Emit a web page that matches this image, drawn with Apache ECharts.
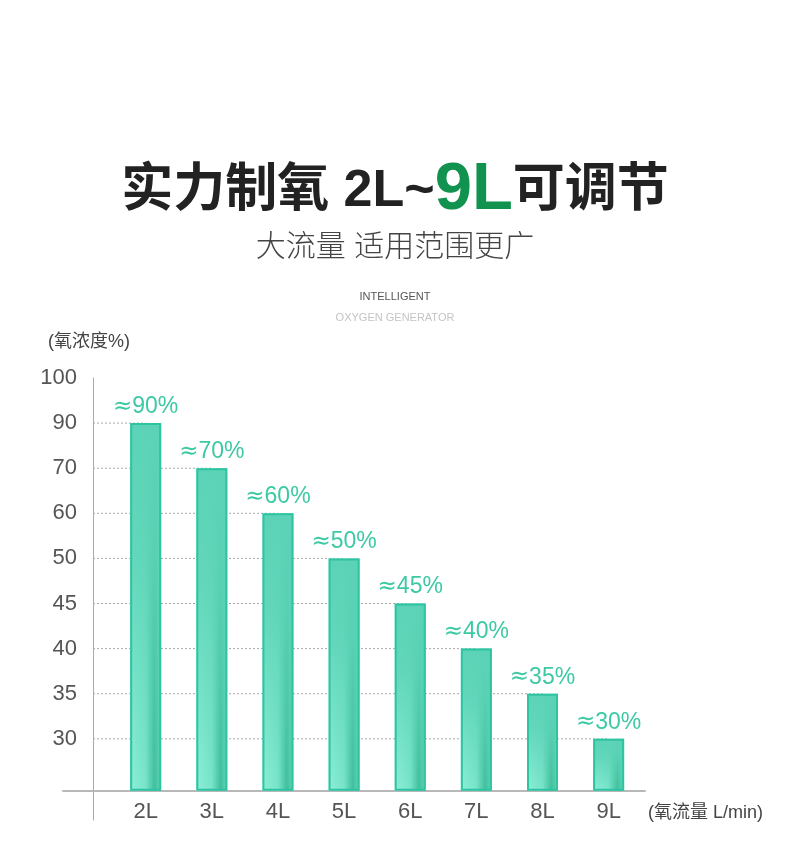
<!DOCTYPE html>
<html>
<head>
<meta charset="utf-8">
<title>实力制氧 2L~9L可调节</title>
<script src="https://cdn.jsdelivr.net/npm/echarts@6/dist/echarts.min.js"></script>
<style>
  html, body { margin: 0; padding: 0; background: #fff; }
  #chart { width: 790px; height: 864px; }
</style>
</head>
<body>
<div id="chart"></div>
<script>
// flow rate categories and oxygen concentration (%)
const flowRates = ['2L', '3L', '4L', '5L', '6L', '7L', '8L', '9L'];
const concentration = [90, 70, 60, 50, 45, 40, 35, 30];
// y axis is not linear: each label sits on its own evenly spaced level
const yTickLabels = ['30', '35', '40', '45', '50', '60', '70', '90', '100'];

const LATIN = '"Liberation Sans", "Noto Sans CJK SC", sans-serif';
const CJK = '"Liberation Sans", "Noto Sans CJK SC", sans-serif';
const BASE_GAP = 0.15;      // extra space between x axis and the first level
const Y_AXIS_SHIFT = 30;    // y axis line sits inside the grid
const BAR_WIDTH = 31;

function levelOf(v) {
  return yTickLabels.indexOf(String(v)) + 1 + BASE_GAP;
}
function isNear(a, b) {
  return Math.abs(a - b) < 1e-6;
}

const barData = concentration.map((v, i) => [i, levelOf(v)]);

const chart = echarts.init(document.getElementById('chart'), null, { renderer: 'canvas' });

const option = {
  backgroundColor: '#fff',
  animation: false,
  title: [
    {
      left: 'center', top: 154, padding: 0,
      text: '{a|实力制氧 2L~}{b|9L}{a|可调节}',
      textStyle: {
        rich: {
          a: { fontSize: 52, fontWeight: 'bold', color: '#222', fontFamily: CJK, verticalAlign: 'bottom', lineHeight: 70, padding: [0, 0, 6, 0] },
          b: { fontSize: 67, fontWeight: 'bold', color: '#12924f', fontFamily: LATIN, verticalAlign: 'bottom', lineHeight: 70 }
        }
      }
    },
    {
      left: 'center', top: 233, padding: 0,
      text: '大流量 适用范围更广',
      textStyle: { fontSize: 30, fontWeight: 300, color: '#444', fontFamily: CJK }
    },
    {
      left: 'center', top: 291, padding: 0,
      text: 'INTELLIGENT',
      textStyle: { fontSize: 11, fontWeight: 'normal', color: '#555', fontFamily: LATIN }
    },
    {
      left: 'center', top: 312, padding: 0,
      text: 'OXYGEN GENERATOR',
      textStyle: { fontSize: 11, fontWeight: 'normal', color: '#c4c4c4', fontFamily: LATIN }
    },
    {
      left: 48, top: 333, padding: 0,
      text: '(氧浓度%)',
      textStyle: { fontSize: 18, fontWeight: 'normal', color: '#444', fontFamily: CJK }
    },
    {
      left: 648, top: 804, padding: 0,
      text: '(氧流量 L/min)',
      textStyle: { fontSize: 18, fontWeight: 'normal', color: '#444', fontFamily: CJK }
    }
  ],
  grid: { left: 63, right: 145, top: 378, bottom: 44 },
  xAxis: {
    type: 'value',
    min: -1.25,
    max: 7.55,
    interval: 0.05,
    axisLine: { show: true, onZero: true, lineStyle: { color: '#b8b8b8', width: 2 } },
    axisTick: { show: false },
    splitLine: { show: false },
    axisLabel: {
      margin: -19,
      fontSize: 22,
      color: '#555',
      fontFamily: LATIN,
      formatter: function (v) {
        const i = Math.round(v);
        return isNear(v, i) && flowRates[i] ? flowRates[i] : '';
      }
    }
  },
  yAxis: {
    type: 'value',
    min: -0.65,
    max: 9.15,
    interval: 0.05,
    offset: -Y_AXIS_SHIFT,
    axisLine: { show: true, onZero: false, lineStyle: { color: '#aaa', width: 1 } },
    axisTick: { show: false },
    splitLine: { show: false },
    axisLabel: {
      margin: 16,
      fontSize: 22,
      color: '#555',
      fontFamily: LATIN,
      formatter: function (v) {
        const k = Math.round(v - BASE_GAP);
        return isNear(v, k + BASE_GAP) && k >= 1 && yTickLabels[k - 1] ? yTickLabels[k - 1] : '';
      }
    }
  },
  series: [
    {
      // dotted guide from the y axis to each bar top
      type: 'custom',
      z: 1,
      silent: true,
      data: barData,
      encode: { x: 0, y: 1 },
      renderItem: function (params, api) {
        const end = api.coord([api.value(0), api.value(1)]);
        return {
          type: 'line',
          shape: { x1: params.coordSys.x + Y_AXIS_SHIFT, y1: end[1], x2: end[0], y2: end[1] },
          style: { stroke: '#a8a8a8', lineWidth: 1, lineDash: [2, 2] }
        };
      }
    },
    {
      type: 'bar',
      z: 2,
      barWidth: BAR_WIDTH,
      silent: true,
      data: barData,
      itemStyle: {
        color: new echarts.graphic.LinearGradient(0, 0, 1, 0, [
          { offset: 0, color: '#8cefd7' },
          { offset: 0.5, color: '#78e4ca' },
          { offset: 0.78, color: '#40bf9c' },
          { offset: 1, color: '#62d6b8' }
        ])
      }
    },
    {
      type: 'bar',
      z: 3,
      barWidth: BAR_WIDTH,
      barGap: '-100%',
      silent: true,
      data: barData,
      itemStyle: {
        borderColor: '#2ec4a2',
        borderWidth: 2,
        color: new echarts.graphic.LinearGradient(0, 0, 0, 1, [
          { offset: 0, color: 'rgba(92,211,182,1)' },
          { offset: 0.35, color: 'rgba(92,211,182,0.85)' },
          { offset: 1, color: 'rgba(92,211,182,0)' }
        ])
      },
      label: {
        show: true,
        position: 'top',
        distance: 5,
        formatter: function (p) {
          return '{s|≈}{n|' + concentration[p.dataIndex] + '%}';
        },
        rich: {
          s: { fontSize: 23, color: '#3cc9a4', fontFamily: '"DejaVu Sans", sans-serif' },
          n: { fontSize: 23, color: '#3cc9a4', fontFamily: LATIN }
        }
      }
    }
  ]
};

chart.setOption(option);
</script>
</body>
</html>
